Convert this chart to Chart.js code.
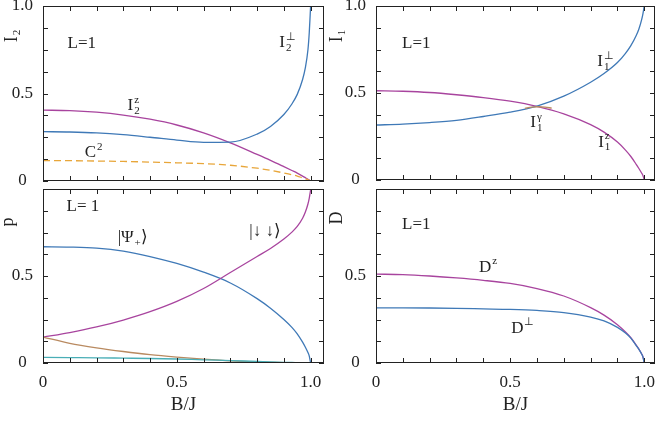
<!DOCTYPE html>
<html>
<head>
<meta charset="utf-8">
<script src="https://cdn.jsdelivr.net/npm/chart.js@4.4.1/dist/chart.umd.min.js"></script>
<style>
  html, body { margin: 0; padding: 0; background: #fff; }
  #wrap { position: relative; width: 661px; height: 432px; }
  #wrap canvas { position: absolute; left: 0; top: 0; }
</style>
</head>
<body>
<div id="wrap">
  <canvas id="c-i2" width="661" height="432"></canvas>
  <canvas id="c-i1" width="661" height="432"></canvas>
  <canvas id="c-p" width="661" height="432"></canvas>
  <canvas id="c-d" width="661" height="432"></canvas>
</div>
<script>
// B/J grid (denser near 1 where the curves turn steep)
const bj = [0, 0.1, 0.2, 0.3, 0.4, 0.5, 0.6, 0.7, 0.8, 0.85, 0.9, 0.93, 0.95, 0.97, 0.98, 0.99, 0.995, 1.0];

// I2 panel
const i2z    = [0.405, 0.402, 0.393, 0.377, 0.353, 0.32, 0.275, 0.218, 0.152, 0.118, 0.082, 0.06, 0.045, 0.028, 0.019, 0.01, 0.005, 0];
const i2perp = [0.282, 0.28, 0.275, 0.265, 0.25, 0.234, 0.221, 0.222, 0.268, 0.312, 0.38, 0.44, 0.495, 0.58, 0.645, 0.75, 0.85, 1.0];
const c2     = [0.116, 0.116, 0.114, 0.112, 0.108, 0.104, 0.099, 0.09, 0.073, 0.061, 0.046, 0.036, 0.028, 0.018, 0.013, 0.007, 0.004, 0];

// I1 panel
const i1z    = [0.513, 0.51, 0.503, 0.49, 0.474, 0.453, 0.423, 0.38, 0.318, 0.275, 0.218, 0.172, 0.135, 0.09, 0.066, 0.04, 0.026, 0];
const i1perp = [0.316, 0.321, 0.33, 0.343, 0.365, 0.39, 0.425, 0.482, 0.562, 0.612, 0.675, 0.728, 0.772, 0.83, 0.868, 0.92, 0.955, 1.0];
const i1gammaX = [0.555, 0.58, 0.605, 0.63, 0.655];
const i1gamma  = [0.412, 0.419, 0.421, 0.419, 0.413];

// p panel
const pPsi   = [0.668, 0.666, 0.66, 0.643, 0.612, 0.572, 0.522, 0.46, 0.37, 0.315, 0.25, 0.205, 0.168, 0.12, 0.092, 0.06, 0.04, 0];
const pDown  = [0.149, 0.175, 0.207, 0.247, 0.295, 0.354, 0.428, 0.52, 0.612, 0.658, 0.712, 0.752, 0.785, 0.832, 0.866, 0.914, 0.948, 0.995];
const pBrown = [0.149, 0.113, 0.087, 0.066, 0.048, 0.034, 0.022, 0.012, 0.006, 0.004, 0.002, 0.001, 0, 0, 0, 0, 0, 0];
const pTeal  = [0.032, 0.031, 0.03, 0.028, 0.026, 0.023, 0.018, 0.014, 0.009, 0.007, 0.004, 0.003, 0.002, 0.001, 0, 0, 0, 0];

// D panel
const dz    = [0.511, 0.508, 0.5, 0.489, 0.475, 0.457, 0.428, 0.385, 0.318, 0.275, 0.22, 0.178, 0.145, 0.103, 0.08, 0.053, 0.036, 0];
const dperp = [0.317, 0.317, 0.316, 0.314, 0.311, 0.308, 0.302, 0.29, 0.264, 0.242, 0.205, 0.172, 0.143, 0.1, 0.078, 0.052, 0.035, 0];

// axes
const xTicks = [0, 0.1, 0.2, 0.3, 0.4, 0.5, 0.6, 0.7, 0.8, 0.9, 1.0];
const yTicks = [0, 0.125, 0.25, 0.375, 0.5, 0.625, 0.75, 0.875, 1.0];
const xTickLabels = { 0: '0', 0.5: '0.5', 1: '1.0' };
const yTickLabelsTop = { 0: '0', 0.5: '0.5', 1: '1.0' };
const yTickLabelsBottom = { 0: '0', 0.5: '0.5' };

const SERIF = "'Liberation Serif', 'Times New Roman', serif";
const INK = '#222';
const PURPLE = '#a8449e';
const BLUE = '#3f79b7';
const ORANGE = '#e8a63a';
const BROWN = '#b98a60';
const TEAL = '#49aeb6';

Chart.defaults.font.family = SERIF;
Chart.defaults.color = INK;

function measureRich(ctx, parts, size) {
  let w = 0;
  parts.forEach(p => {
    if (p.t) { ctx.font = size + 'px ' + SERIF; w += ctx.measureText(p.t).width; }
    else {
      ctx.font = Math.round(size * 0.62) + 'px ' + SERIF;
      w += Math.max(p.sup ? ctx.measureText(p.sup).width : 0, p.sub ? ctx.measureText(p.sub).width : 0) + 1;
    }
  });
  return w;
}

function drawRich(ctx, parts, x, y, size) {
  let cx = x;
  ctx.textBaseline = 'middle';
  ctx.textAlign = 'left';
  parts.forEach(p => {
    if (p.t) {
      ctx.font = size + 'px ' + SERIF;
      ctx.fillText(p.t, cx, y);
      cx += ctx.measureText(p.t).width;
    } else {
      ctx.font = Math.round(size * 0.62) + 'px ' + SERIF;
      let w = 0;
      if (p.sup) { ctx.fillText(p.sup, cx + 1, y - size * 0.36); w = ctx.measureText(p.sup).width; }
      if (p.sub) { ctx.fillText(p.sub, cx + 1, y + size * 0.3); w = Math.max(w, ctx.measureText(p.sub).width); }
      cx += w + 1;
    }
  });
}

const framePlugin = {
  id: 'frame',
  afterDraw(chart, args, opts) {
    const { ctx, chartArea: a, scales } = chart;
    const x = scales.x, y = scales.y;
    ctx.save();
    ctx.strokeStyle = INK;
    ctx.lineWidth = 1;
    ctx.beginPath();
    xTicks.forEach(v => {
      const px = Math.round(x.getPixelForValue(v)) + 0.5;
      ctx.moveTo(px, a.bottom); ctx.lineTo(px, a.bottom - 5);
      ctx.moveTo(px, a.top); ctx.lineTo(px, a.top + 5);
    });
    yTicks.forEach(v => {
      const py = Math.round(y.getPixelForValue(v)) + 0.5;
      ctx.moveTo(a.left, py); ctx.lineTo(a.left + 5, py);
      ctx.moveTo(a.right, py); ctx.lineTo(a.right - 5, py);
    });
    ctx.stroke();
    ctx.strokeRect(a.left + 0.5, a.top + 0.5, a.width - 1, a.height - 1);

    ctx.fillStyle = INK;
    (opts.notes || []).forEach(n => {
      drawRich(ctx, n.parts, x.getPixelForValue(n.x), y.getPixelForValue(n.y), 17);
    });

    if (opts.yTitle) {
      const t = opts.yTitle;
      const w = measureRich(ctx, t.parts, 18);
      ctx.save();
      ctx.translate(a.left + t.dx, a.top + t.dy);
      ctx.rotate(-Math.PI / 2);
      drawRich(ctx, t.parts, -w / 2, 0, 18);
      ctx.restore();
    }
    ctx.restore();
  }
};

function series(xs, ys, color, dash) {
  return {
    data: xs.map((v, i) => ({ x: v, y: ys[i] })),
    borderColor: color,
    borderWidth: 1.3,
    borderDash: dash || [],
    pointRadius: 0,
    fill: false,
    cubicInterpolationMode: 'monotone'
  };
}

function panel(id, box, xMax, showX, yLabels, datasets, notes, yTitle) {
  const axisW = 40, axisH = showX ? 60 : 0;
  return new Chart(document.getElementById(id), {
    type: 'line',
    data: { datasets: datasets },
    options: {
      responsive: false,
      animation: false,
      events: [],
      layout: {
        padding: {
          left: box.left - axisW,
          top: box.top,
          right: 661 - box.right,
          bottom: 432 - box.bottom - axisH
        }
      },
      plugins: {
        legend: { display: false },
        tooltip: { enabled: false },
        frame: { notes: notes, yTitle: yTitle }
      },
      scales: {
        x: {
          type: 'linear',
          min: 0,
          max: xMax,
          display: showX,
          grid: { display: false, drawTicks: false },
          border: { display: false },
          afterBuildTicks: s => { s.ticks = xTicks.map(v => ({ value: v })); },
          afterFit: s => { s.height = axisH; s.paddingLeft = 0; s.paddingRight = 0; },
          ticks: {
            autoSkip: false,
            maxRotation: 0,
            padding: 9,
            font: { size: 17 },
            callback: v => xTickLabels[v] ?? ''
          },
          title: { display: true, text: 'B/J', font: { size: 19 }, padding: { top: 0, bottom: 7 } }
        },
        y: {
          type: 'linear',
          min: 0,
          max: 1,
          grid: { display: false, drawTicks: false },
          border: { display: false },
          afterBuildTicks: s => { s.ticks = yTicks.map(v => ({ value: v })); },
          afterFit: s => { s.width = axisW; s.paddingTop = 0; s.paddingBottom = 0; },
          ticks: {
            autoSkip: false,
            crossAlign: 'center',
            padding: 10,
            font: { size: 17 },
            callback: v => yLabels[v] ?? ''
          }
        }
      }
    },
    plugins: [framePlugin]
  });
}

panel('c-i2', { left: 43, top: 6, right: 324, bottom: 181 }, 1.05, false, yTickLabelsTop,
  [series(bj, c2, ORANGE, [7, 4]), series(bj, i2perp, BLUE), series(bj, i2z, PURPLE)],
  [
    { x: 0.092, y: 0.783, parts: [{ t: 'L=1' }] },
    { x: 0.316, y: 0.43, parts: [{ t: 'I' }, { sup: 'z', sub: '2' }] },
    { x: 0.156, y: 0.16, parts: [{ t: 'C' }, { sup: '2' }] },
    { x: 0.883, y: 0.79, parts: [{ t: 'I' }, { sup: '\u22A5', sub: '2' }] }
  ],
  { parts: [{ t: 'I' }, { sub: '2' }], dx: -31, dy: 30 });

panel('c-i1', { left: 376, top: 6, right: 655, bottom: 180 }, 1.04, false, yTickLabelsTop,
  [series(i1gammaX, i1gamma, BROWN), series(bj, i1perp, BLUE), series(bj, i1z, PURPLE)],
  [
    { x: 0.097, y: 0.787, parts: [{ t: 'L=1' }] },
    { x: 0.825, y: 0.678, parts: [{ t: 'I' }, { sup: '\u22A5', sub: '1' }] },
    { x: 0.575, y: 0.328, parts: [{ t: 'I' }, { sup: '\u03B3', sub: '1' }] },
    { x: 0.828, y: 0.218, parts: [{ t: 'I' }, { sup: 'z', sub: '1' }] }
  ],
  { parts: [{ t: 'I' }, { sub: '1' }], dx: -39, dy: 30 });

panel('c-p', { left: 43, top: 189, right: 324, bottom: 363 }, 1.05, true, yTickLabelsBottom,
  [series(bj, pTeal, TEAL), series(bj, pBrown, BROWN), series(bj, pDown, PURPLE), series(bj, pPsi, BLUE)],
  [
    { x: 0.088, y: 0.898, parts: [{ t: 'L= 1' }] },
    { x: 0.279, y: 0.72, parts: [{ t: '|\u03A8' }, { sub: '+' }, { t: '\u27E9' }] },
    { x: 0.771, y: 0.755, parts: [{ t: '|\u2193 \u2193\u27E9' }] }
  ],
  { parts: [{ t: 'p' }], dx: -35, dy: 33 });

panel('c-d', { left: 376, top: 189, right: 655, bottom: 363 }, 1.04, true, yTickLabelsBottom,
  [series(bj, dperp, BLUE), series(bj, dz, PURPLE)],
  [
    { x: 0.097, y: 0.793, parts: [{ t: 'L=1' }] },
    { x: 0.384, y: 0.551, parts: [{ t: 'D' }, { sup: 'z' }] },
    { x: 0.504, y: 0.2, parts: [{ t: 'D' }, { sup: '\u22A5' }] }
  ],
  { parts: [{ t: 'D' }], dx: -39, dy: 29 });
</script>
</body>
</html>
